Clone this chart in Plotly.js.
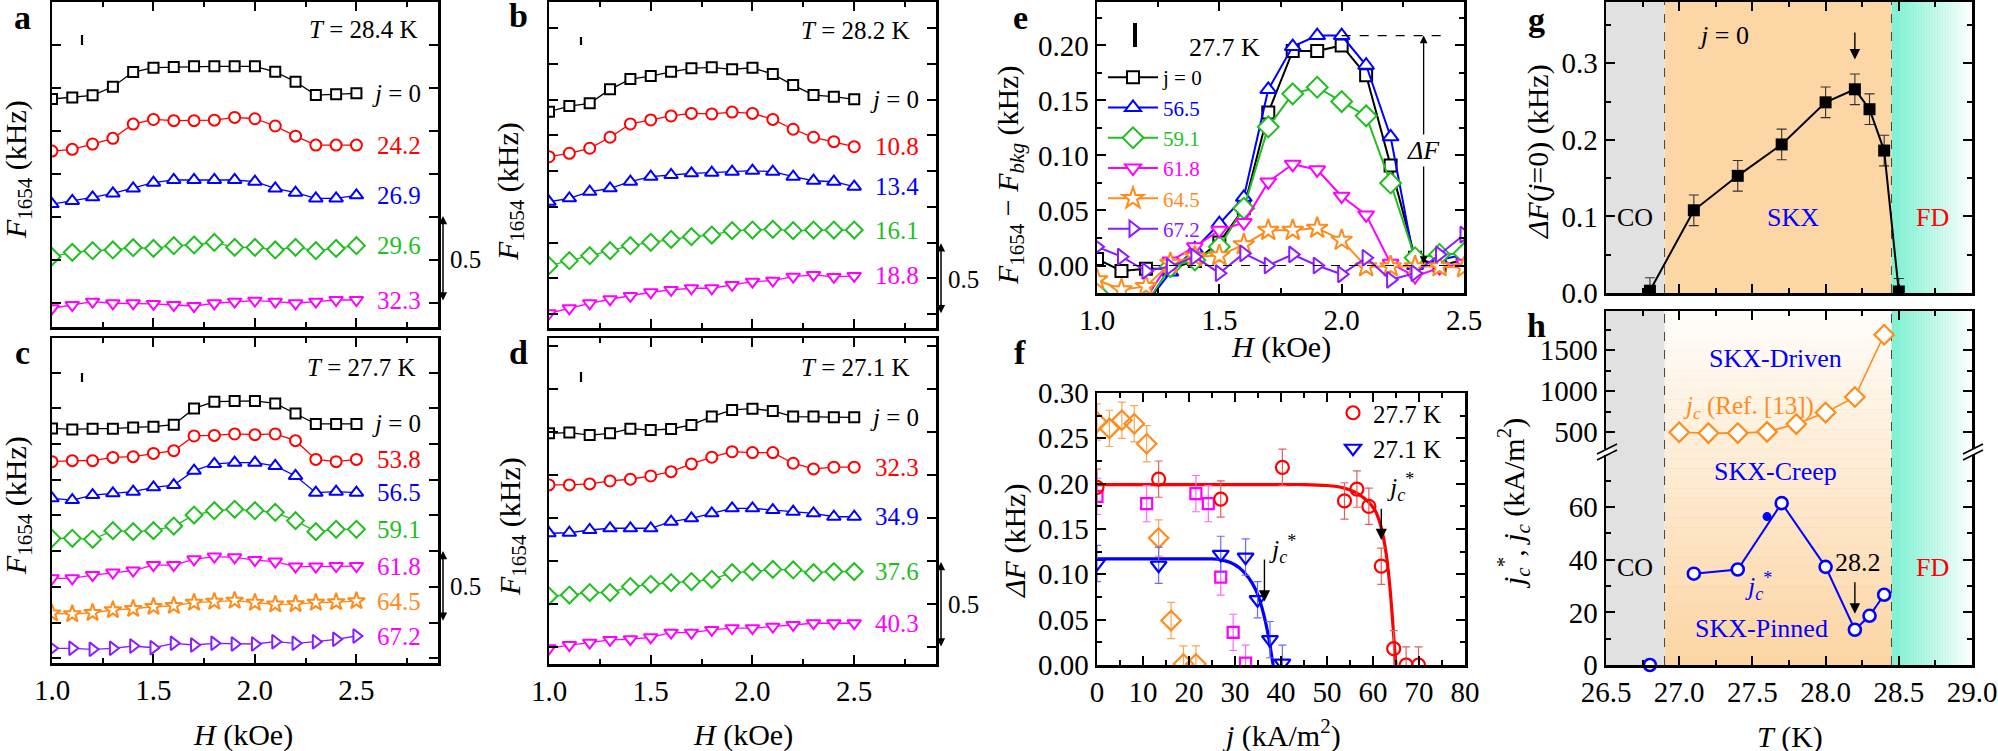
<!DOCTYPE html>
<html>
<head>
<meta charset="utf-8">
<script src="https://cdn.plot.ly/plotly-3.0.1.min.js"></script>
<style>html,body{margin:0;padding:0;background:#fff;overflow:hidden}#chart{width:1998px;height:751px}</style>
</head>
<body>
<div id="chart"></div>
<script>
// ================= DATA =================
const fieldH = [1.0,1.1,1.2,1.3,1.4,1.5,1.6,1.7,1.8,1.9,2.0,2.1,2.2,2.3,2.4,2.5];

// panel a: T = 28.4 K (offset curves, kHz)
const aCurrents = ['<i>j</i> = 0','24.2','26.9','29.6','32.3'];
const a_j0   = [1.326,1.335,1.347,1.397,1.483,1.508,1.512,1.516,1.516,1.516,1.516,1.484,1.426,1.349,1.353,1.359];
const a_24_2 = [1.023,1.033,1.064,1.097,1.180,1.207,1.200,1.200,1.203,1.219,1.211,1.169,1.110,1.058,1.058,1.058];
const a_26_9 = [0.715,0.733,0.754,0.777,0.806,0.839,0.855,0.855,0.855,0.855,0.845,0.806,0.781,0.748,0.748,0.766];
const a_29_6 = [0.409,0.434,0.444,0.448,0.461,0.457,0.473,0.477,0.492,0.463,0.463,0.448,0.463,0.444,0.457,0.473];
const a_32_3 = [0.109,0.128,0.147,0.138,0.138,0.134,0.128,0.122,0.138,0.147,0.153,0.147,0.138,0.147,0.157,0.157];

// panel b: T = 28.2 K
const bCurrents = ['<i>j</i> = 0','10.8','13.4','16.1','18.8'];
const b_j0   = [1.513,1.552,1.571,1.669,1.741,1.762,1.792,1.816,1.823,1.809,1.820,1.776,1.699,1.629,1.618,1.599];
const b_10_8 = [1.198,1.222,1.257,1.334,1.427,1.455,1.483,1.501,1.497,1.510,1.501,1.459,1.390,1.334,1.303,1.268];
const b_13_4 = [0.883,0.907,0.953,0.977,1.023,1.058,1.070,1.082,1.086,1.093,1.100,1.093,1.058,1.030,1.023,0.988];
const b_16_1 = [0.436,0.471,0.506,0.541,0.576,0.599,0.620,0.639,0.650,0.681,0.685,0.690,0.681,0.685,0.685,0.685];
const b_18_8 = [0.103,0.138,0.173,0.201,0.224,0.250,0.266,0.278,0.278,0.301,0.324,0.331,0.359,0.371,0.357,0.364];

// panel c: T = 27.7 K
const cCurrents = ['<i>j</i> = 0','53.8','56.5','59.1','61.8','64.5','67.2'];
const c_j0   = [1.643,1.636,1.641,1.641,1.650,1.655,1.669,1.783,1.830,1.835,1.835,1.818,1.748,1.674,1.674,1.674];
const c_53_8 = [1.410,1.417,1.417,1.440,1.445,1.468,1.487,1.590,1.594,1.604,1.599,1.604,1.557,1.426,1.410,1.426];
const c_56_5 = [1.153,1.141,1.176,1.188,1.200,1.230,1.246,1.347,1.394,1.403,1.403,1.380,1.310,1.193,1.200,1.193];
const c_59_1 = [0.873,0.873,0.866,0.927,0.920,0.927,0.959,1.036,1.067,1.076,1.067,1.055,0.997,0.920,0.936,0.936];
const c_61_8 = [0.593,0.593,0.616,0.633,0.647,0.686,0.686,0.726,0.745,0.740,0.721,0.710,0.675,0.675,0.679,0.679];
const c_64_5 = [0.348,0.343,0.352,0.371,0.380,0.394,0.401,0.423,0.430,0.437,0.423,0.411,0.413,0.423,0.427,0.434];
const c_67_2 = [0.103,0.103,0.096,0.103,0.119,0.107,0.138,0.126,0.138,0.133,0.133,0.149,0.138,0.149,0.166,0.189];

// panel d: T = 27.1 K
const dCurrents = ['<i>j</i> = 0','32.3','34.9','37.6','40.3'];
const d_j0   = [1.341,1.345,1.331,1.341,1.368,1.360,1.366,1.390,1.438,1.477,1.484,1.471,1.438,1.438,1.434,1.434];
const d_32_3 = [1.041,1.041,1.047,1.064,1.074,1.093,1.118,1.163,1.202,1.234,1.229,1.229,1.167,1.134,1.144,1.144];
const d_34_9 = [0.760,0.763,0.779,0.789,0.789,0.789,0.827,0.847,0.876,0.905,0.905,0.895,0.885,0.876,0.856,0.856];
const d_37_6 = [0.395,0.401,0.415,0.415,0.450,0.463,0.473,0.479,0.492,0.531,0.537,0.550,0.547,0.531,0.537,0.537];
const d_40_3 = [0.091,0.110,0.124,0.140,0.144,0.155,0.182,0.182,0.198,0.208,0.208,0.217,0.227,0.237,0.237,0.237];

// panel e: background-subtracted, 27.7 K
const eNames = ['j = 0','56.5','59.1','61.8','64.5','67.2'];
const e_j0   = [0.006,-0.005,-0.003,-0.003,0.004,0.021,0.052,0.139,0.195,0.195,0.200,0.173,0.091,0.007,0.000,0.005];
const e_56_5 = [-0.040,-0.040,-0.035,-0.006,0.015,0.038,0.062,0.160,0.199,0.209,0.209,0.182,0.117,0.000,0.005,0.010];
const e_59_1 = [-0.025,-0.035,-0.035,-0.001,0.005,0.017,0.052,0.126,0.156,0.162,0.149,0.136,0.075,0.007,0.010,0.011];
const e_61_8 = [-0.035,-0.035,-0.030,0.004,0.017,0.032,0.039,0.076,0.092,0.087,0.063,0.046,0.002,-0.010,-0.002,0.002];
const e_64_5 = [-0.013,-0.022,-0.019,0.002,0.008,0.009,0.019,0.032,0.032,0.034,0.023,-0.001,-0.001,-0.001,-0.001,-0.002];
const e_67_2 = [0.017,0.008,-0.005,-0.001,0.008,-0.007,0.011,0.000,0.010,0.000,-0.008,0.007,-0.013,-0.007,0.010,0.028];

// panel f: dF vs j
const f277_j   = [0,13.4,26.9,40.3,53.8,56.5,59.1,61.8,64.5,67.2,69.9];
const f277_dF  = [0.196,0.205,0.183,0.218,0.181,0.194,0.175,0.109,0.018,0.000,0.000];
const f277_err = [0.02,0.02,0.02,0.02,0.02,0.02,0.02,0.02,0.02,0.02,0.02];
const f271_j   = [0,13.4,26.9,32.3,34.9,37.6,40.3];
const f271_dF  = [0.112,0.110,0.122,0.119,0.072,0.028,0.002];
const f271_err = [0.02,0.02,0.02,0.02,0.02,0.02,0.02];
const f282_j   = [0,2.7,5.4,8.1,10.8,13.4,16.1,18.8,21.5];
const f282_dF  = [0.268,0.261,0.270,0.266,0.244,0.140,0.049,0.001,0.001];
const f282_err = [0.02,0.02,0.02,0.02,0.02,0.02,0.02,0.02,0.02];
const f284_j   = [0,10.8,21.5,24.2,26.9,29.6,32.3];
const f284_dF  = [0.186,0.178,0.189,0.178,0.097,0.036,0.002];
const f284_err = [0.02,0.02,0.02,0.02,0.02,0.02,0.02];
const fit277_j  = [0,10,20,30,40,45,50,53,55,57,59,60.5,61.5,62.3,63,63.6,64.1,64.6,65.0];
const fit277_dF = [0.199,0.199,0.199,0.199,0.199,0.199,0.198,0.196,0.193,0.188,0.180,0.170,0.157,0.140,0.118,0.090,0.060,0.025,0.0];
const fit271_j  = [0,10,20,25,27,29,31,33,34.5,35.7,36.7,37.4,38.0,38.3];
const fit271_dF = [0.117,0.117,0.117,0.117,0.116,0.113,0.107,0.096,0.083,0.066,0.046,0.028,0.009,0.0];
const jcStar277 = 61.8, jcStar271 = 36.4;

// panel g: dF(j=0) vs T
const g_T   = [26.8,27.1,27.4,27.7,28.0,28.2,28.3,28.4,28.5];
const g_dF  = [0.003,0.108,0.153,0.194,0.249,0.266,0.240,0.186,0.002];
const g_err = [0.017,0.02,0.02,0.02,0.02,0.02,0.02,0.02,0.017];

// panel h: critical currents vs T
const h_T      = [26.8,27.1,27.4,27.7,28.0,28.2,28.3,28.4];
const h_jcStar = [0,34.7,36.3,61.5,37.3,13.4,18.7,26.7];
const h_extraT = [27.6,27.7];
const h_extra  = [56.4,62.5];
const jcRef_T  = [27.0,27.2,27.4,27.6,27.8,28.0,28.2,28.4];
const jcRef    = [500,490,490,505,600,740,930,1690];
const phaseT   = [26.9,28.45];   // CO|SKX and SKX|FD boundaries
const scaleBar = 0.5;            // kHz

// ================= STYLE / LAYOUT =================
const FONT = 'Liberation Serif, Times New Roman, DejaVu Serif, serif';
const W = 1998, HT = 751;
const px = v => v / W;
const py = v => 1 - v / HT;
const BLACK='#000000', RED='#ff0000', BLUE='#0000ff', GREEN='#1fbf1f', MAG='#ff00ff', ORANGE='#ff8c1a', PURPLE='#8a1cff';
const SIZE = {'square':10,'circle':11,'triangle-up':12,'diamond':13,'triangle-down':12,'star':13,'triangle-right':12};

const traces = [], annotations = [], shapes = [];
const note = o => annotations.push(Object.assign({showarrow:false, xanchor:'center', yanchor:'middle', font:{family:FONT, size:26, color:'#000'}}, o));
const txt = (x, y, text, o) => note(Object.assign({x, y, text, xref:'paper', yref:'paper'}, o||{}));

// axes
const minor = d => ({ticks:'inside', ticklen:5, tickwidth:2, tickcolor:'#000', dtick:d, showgrid:false});
function ax(o) {
  return Object.assign({showline:true, linecolor:'#000', linewidth:2.5, mirror:'ticks', ticks:'inside', ticklen:9, tickwidth:2,
    tickcolor:'#000', showgrid:false, zeroline:false, fixedrange:true, tickfont:{family:FONT, size:29, color:'#000'}}, o);
}
const dx = (l, r) => [px(l), px(r)];
const dy = (t, b) => [py(b), py(t)];

const layout = {
  width:W, height:HT, margin:{l:0, r:0, t:0, b:0, pad:0},
  paper_bgcolor:'#ffffff', plot_bgcolor:'rgba(0,0,0,0)',
  font:{family:FONT, color:'#000'},
  xaxis:  ax({domain:dx(52,438),  anchor:'y',  range:[1,2.902], tick0:1, dtick:0.5, showticklabels:false, minor:minor(0.25)}),
  yaxis:  ax({domain:dy(2,327),   anchor:'x',  range:[0,1.89], tick0:0.14, dtick:0.25, showticklabels:false}),
  xaxis2: ax({domain:dx(549,936), anchor:'y2', range:[1,2.902], tick0:1, dtick:0.5, showticklabels:false, minor:minor(0.25)}),
  yaxis2: ax({domain:dy(2,328),   anchor:'x2', range:[0,2.28], tick0:0.098, dtick:0.25, showticklabels:false}),
  xaxis3: ax({domain:dx(52,438),  anchor:'y3', range:[1,2.902], tick0:1, dtick:0.5, tickformat:'.1f', minor:minor(0.25)}),
  yaxis3: ax({domain:dy(338,663), anchor:'x3', range:[0,2.276], tick0:0.033, dtick:0.25, showticklabels:false}),
  xaxis4: ax({domain:dx(549,936), anchor:'y4', range:[1,2.902], tick0:1, dtick:0.5, tickformat:'.1f', minor:minor(0.25)}),
  yaxis4: ax({domain:dy(338,664), anchor:'x4', range:[0,1.895], tick0:0.097, dtick:0.25, showticklabels:false}),
  xaxis5: ax({domain:dx(1097,1464), anchor:'y5', range:[1,2.5], tick0:1, dtick:0.5, tickformat:'.1f', minor:minor(0.25)}),
  yaxis5: ax({domain:dy(2,293), anchor:'x5', range:[-0.025,0.2395], tick0:0, dtick:0.05, tickformat:'.2f', minor:minor(0.025)}),
  xaxis6: ax({domain:dx(1097,1465), anchor:'y6', range:[0,80], tick0:0, dtick:10, minor:minor(5)}),
  yaxis6: ax({domain:dy(393,665), anchor:'x6', range:[0,0.3], tick0:0, dtick:0.05, tickformat:'.2f', minor:minor(0.025)}),
  xaxis7: ax({domain:dx(1606,1972), anchor:'y7', range:[26.5,29], tick0:26.5, dtick:0.5, showticklabels:false, minor:minor(0.25)}),
  yaxis7: ax({domain:dy(2,293), anchor:'x7', range:[0,0.38], tick0:0, dtick:0.1, tickformat:'.1f', minor:minor(0.05)}),
  xaxis8: ax({domain:dx(1606,1972), anchor:'y8', range:[26.5,29], tick0:26.5, dtick:0.5, tickformat:'.1f', minor:minor(0.25), mirror:false}),
  yaxis8: ax({domain:dy(455,665), anchor:'x8', range:[0,79.8], tick0:0, dtick:20, minor:minor(10)}),
  xaxis9: ax({domain:dx(1606,1972), anchor:'y9', matches:'x8', range:[26.5,29], tick0:26.5, dtick:0.5, side:'top', showticklabels:false, minor:minor(0.25), mirror:false}),
  yaxis9: ax({domain:dy(311,449), anchor:'x9', range:[296,1979], tick0:0, dtick:500, minor:{ticks:'inside', ticklen:5, tickwidth:2, tickcolor:'#000', dtick:250, tick0:0, showgrid:false}}),
  legend:  {x:px(1103), y:py(57), xanchor:'left', yanchor:'top', bgcolor:'rgba(0,0,0,0)', borderwidth:0, itemwidth:50, tracegroupgap:0,
            font:{family:FONT, size:21, color:'#000'}},
  legend2: {x:px(1333), y:py(390), xanchor:'left', yanchor:'top', bgcolor:'rgba(0,0,0,0)', borderwidth:0, itemwidth:30,
            font:{family:FONT, size:25, color:'#000'}},
  showlegend:true
};
const pxPerUnit = id => { const a = layout[id]; return (a.domain[1]-a.domain[0])*HT/(a.range[1]-a.range[0]); };

// stacked panels a-d
const stackPanels = [
  {xa:'x',  ya:'y',  yk:'yaxis',  series:[a_j0,a_24_2,a_26_9,a_29_6,a_32_3], labels:aCurrents, colors:[BLACK,RED,BLUE,GREEN,MAG], lcolors:[BLACK,RED,BLUE,GREEN,MAG], sym:['square','circle','triangle-up','diamond','triangle-down'], labelX:423, barX:443, barBase:0.145},
  {xa:'x2', ya:'y2', yk:'yaxis2', series:[b_j0,b_10_8,b_13_4,b_16_1,b_18_8], labels:bCurrents, colors:[BLACK,RED,BLUE,GREEN,MAG], lcolors:[BLACK,RED,BLUE,GREEN,MAG], sym:['square','circle','triangle-up','diamond','triangle-down'], labelX:921, barX:941, barBase:0.092},
  {xa:'x3', ya:'y3', yk:'yaxis3', series:[c_j0,c_53_8,c_56_5,c_59_1,c_61_8,c_64_5,c_67_2], labels:cCurrents, colors:[BLACK,RED,BLUE,GREEN,MAG,ORANGE,PURPLE], lcolors:[BLACK,RED,BLUE,GREEN,MAG,ORANGE,MAG], sym:['square','circle','triangle-up','diamond','triangle-down','star','triangle-right'], labelX:423, barX:443, barBase:0.285},
  {xa:'x4', ya:'y4', yk:'yaxis4', series:[d_j0,d_32_3,d_34_9,d_37_6,d_40_3], labels:dCurrents, colors:[BLACK,RED,BLUE,GREEN,MAG], lcolors:[BLACK,RED,BLUE,GREEN,MAG], sym:['square','circle','triangle-up','diamond','triangle-down'], labelX:921, barX:941, barBase:0.093}
];
stackPanels.forEach(p => {
  p.series.forEach((ys, i) => {
    traces.push({type:'scatter', mode:'lines+markers', x:fieldH, y:ys, xaxis:p.xa, yaxis:p.ya, showlegend:false,
      line:{color:p.colors[i], width:1.3},
      marker:{symbol:p.sym[i], size:SIZE[p.sym[i]], color:'#ffffff', line:{color:p.colors[i], width:2}}});
    note({xref:'paper', yref:p.ya, x:px(p.labelX), y:ys[ys.length-1], xanchor:'right', text:p.labels[i], font:{family:FONT, size:25, color:p.lcolors[i]}});
  });
  // 0.5 kHz scale bar, length taken from this panel's y scale
  annotations.push({xref:'paper', yref:p.ya, x:px(p.barX), y:p.barBase + scaleBar, axref:'pixel', ayref:'pixel', ax:0, ay:scaleBar*pxPerUnit(p.yk),
    text:'', showarrow:true, arrowhead:2, arrowside:'end+start', arrowsize:1.1, arrowwidth:1.5, arrowcolor:'#000', standoff:0, startstandoff:0});
  note({xref:'paper', yref:p.ya, x:px(p.barX + 5), y:p.barBase + scaleBar/2, xanchor:'left', text:String(scaleBar), font:{family:FONT, size:25, color:'#000'}});
});

// temperature labels a-d
txt(px(420), py(29), '<i>T</i> = 28.4 K', {xanchor:'right', font:{family:FONT,size:25,color:'#000'}});
txt(px(912), py(31), '<i>T</i> = 28.2 K', {xanchor:'right', font:{family:FONT,size:25,color:'#000'}});
txt(px(418), py(367), '<i>T</i> = 27.7 K', {xanchor:'right', font:{family:FONT,size:25,color:'#000'}});
txt(px(912), py(367), '<i>T</i> = 27.1 K', {xanchor:'right', font:{family:FONT,size:25,color:'#000'}});

// small error-size bars
[[82,35,45,2.2],[581,37,45,2.2],[82,373,382,2.2],[581,372,382,2.2],[1135,23,47,4]].forEach(b => {
  shapes.push({type:'line', xref:'paper', yref:'paper', x0:px(b[0]), x1:px(b[0]), y0:py(b[1]), y1:py(b[2]), line:{color:'#000', width:b[3]}});
});

// panel e
const eSeries = [e_j0,e_56_5,e_59_1,e_61_8,e_64_5,e_67_2];
const eColors = [BLACK,BLUE,GREEN,MAG,ORANGE,PURPLE];
const eSym = ['square','triangle-up','diamond','triangle-down','star','triangle-right'];
eSeries.forEach((ys, i) => {
  traces.push({type:'scatter', mode:'lines+markers', x:fieldH, y:ys, xaxis:'x5', yaxis:'y5',
    name:'<span style="color:'+eColors[i]+'">'+eNames[i]+'</span>', legend:'legend',
    line:{color:eColors[i], width:2}, marker:{symbol:eSym[i], size:Math.round(SIZE[eSym[i]]*1.2), color:'#ffffff', line:{color:eColors[i], width:2}}});
});
const eMax = Math.max(...e_56_5);
shapes.push({type:'line', xref:'x5 domain', yref:'y5', x0:0, x1:1, y0:0, y1:0, line:{color:'#000', width:1.2, dash:'dash'}});
shapes.push({type:'line', xref:'x5', yref:'y5', x0:2.0, x1:2.41, y0:eMax, y1:eMax, line:{color:'#000', width:1.2, dash:'dash'}});
annotations.push({xref:'x5', yref:'y5', axref:'x5', ayref:'y5', x:2.335, y:eMax, ax:2.335, ay:0, text:'', showarrow:true,
  arrowhead:2, arrowside:'end+start', arrowsize:1.2, arrowwidth:1.3, arrowcolor:'#000', standoff:0, startstandoff:0});
note({xref:'x5', yref:'y5', x:2.335, y:eMax/2, text:'<i>ΔF</i>', bgcolor:'#ffffff'});
txt(px(1187), py(47), '27.7 K', {xanchor:'left'});

// panel f
traces.push({type:'scatter', mode:'lines', x:fit277_j, y:fit277_dF, xaxis:'x6', yaxis:'y6', showlegend:false, line:{color:RED, width:3.2, shape:'spline'}});
traces.push({type:'scatter', mode:'lines', x:fit271_j, y:fit271_dF, xaxis:'x6', yaxis:'y6', showlegend:false, line:{color:BLUE, width:3.2, shape:'spline'}});
traces.push({type:'scatter', mode:'markers', x:f282_j, y:f282_dF, xaxis:'x6', yaxis:'y6', showlegend:false,
  error_y:{type:'data', array:f282_err, color:'#f7a55a', thickness:1.2, width:4},
  marker:{symbol:'diamond', size:15, color:'rgba(255,255,255,0)', line:{color:ORANGE, width:2.2}}});
traces.push({type:'scatter', mode:'markers', x:f284_j, y:f284_dF, xaxis:'x6', yaxis:'y6', showlegend:false,
  error_y:{type:'data', array:f284_err, color:'#ff66ff', thickness:1.2, width:4},
  marker:{symbol:'square', size:11, color:'rgba(255,255,255,0)', line:{color:MAG, width:2.2}}});
traces.push({type:'scatter', mode:'markers', x:f277_j, y:f277_dF, xaxis:'x6', yaxis:'y6', name:'27.7 K', legend:'legend2',
  error_y:{type:'data', array:f277_err, color:'#e06060', thickness:1.2, width:4},
  marker:{symbol:'circle', size:13, color:'rgba(255,255,255,0)', line:{color:RED, width:2.2}}});
traces.push({type:'scatter', mode:'markers', x:f271_j, y:f271_dF, xaxis:'x6', yaxis:'y6', name:'27.1 K', legend:'legend2',
  error_y:{type:'data', array:f271_err, color:'#6b6bff', thickness:1.2, width:4},
  marker:{symbol:'triangle-down', size:14, color:'rgba(255,255,255,0)', line:{color:BLUE, width:2.2}}});
const jcs = '<i>j</i><sub><i>c</i></sub><sup>*</sup>';
annotations.push({xref:'x6', yref:'y6', axref:'x6', ayref:'y6', x:jcStar277, y:0.138, ax:jcStar277, ay:0.174, text:'', showarrow:true, arrowhead:2, arrowsize:1.6, arrowwidth:1.4, arrowcolor:'#000'});
note({xref:'x6', yref:'y6', x:jcStar277+0.8, y:0.196, xanchor:'left', text:jcs});
annotations.push({xref:'x6', yref:'y6', axref:'x6', ayref:'y6', x:jcStar271, y:0.070, ax:jcStar271, ay:0.118, text:'', showarrow:true, arrowhead:2, arrowsize:1.6, arrowwidth:1.4, arrowcolor:'#000'});
note({xref:'x6', yref:'y6', x:jcStar271+0.5, y:0.128, xanchor:'left', text:jcs});

// panels g and h: phase backgrounds
const hTop = 311, hBot = 665;
shapes.push({type:'rect', xref:'x7', yref:'y7 domain', x0:26.5, x1:phaseT[0], y0:0, y1:1, fillcolor:'#e1e1e1', line:{width:0}, layer:'below'});
shapes.push({type:'rect', xref:'x7', yref:'y7 domain', x0:phaseT[0], x1:phaseT[1], y0:0, y1:1, fillcolor:'#fcd6a5', line:{width:0}, layer:'below'});
shapes.push({type:'rect', xref:'x8', yref:'paper', x0:26.5, x1:phaseT[0], y0:py(hBot), y1:py(hTop), fillcolor:'#e1e1e1', line:{width:0}, layer:'below'});
const NV = 36;
for (let i = 0; i < NV; i++) {
  const t0 = hTop + (hBot-hTop)*i/NV, t1 = hTop + (hBot-hTop)*(i+1)/NV + 0.6;
  const a = (0.04 + 0.96*((i+0.5)/NV)).toFixed(3);
  shapes.push({type:'rect', xref:'x8', yref:'paper', x0:phaseT[0], x1:phaseT[1], y0:py(t1), y1:py(t0), fillcolor:'rgba(252,213,163,'+a+')', line:{width:0}, layer:'below'});
}
const NT = 30;
for (let i = 0; i < NT; i++) {
  const x0 = phaseT[1] + (29.0-phaseT[1])*i/NT, x1 = phaseT[1] + (29.0-phaseT[1])*(i+1)/NT + 0.003;
  const a = (0.85*(1-(i+0.5)/NT)).toFixed(3);
  const col = 'rgba(105,238,202,'+a+')';
  shapes.push({type:'rect', xref:'x7', yref:'y7 domain', x0, x1, y0:0, y1:1, fillcolor:col, line:{width:0}, layer:'below'});
  shapes.push({type:'rect', xref:'x8', yref:'paper', x0, x1, y0:py(hBot), y1:py(hTop), fillcolor:col, line:{width:0}, layer:'below'});
}
phaseT.forEach(t => {
  shapes.push({type:'line', xref:'x7', yref:'y7 domain', x0:t, x1:t, y0:0, y1:1, line:{color:'#444', width:1, dash:'dash'}, layer:'below'});
  shapes.push({type:'line', xref:'x8', yref:'paper', x0:t, x1:t, y0:py(hBot), y1:py(hTop), line:{color:'#444', width:1, dash:'dash'}, layer:'below'});
});

// panel g data
traces.push({type:'scatter', mode:'lines+markers', x:g_T, y:g_dF, xaxis:'x7', yaxis:'y7', showlegend:false,
  error_y:{type:'data', array:g_err, color:'#333', thickness:1.1, width:5},
  line:{color:'#000', width:2}, marker:{symbol:'square', size:12, color:'#000'}});
annotations.push({xref:'x7', yref:'y7', axref:'x7', ayref:'y7', x:g_T[5], y:0.305, ax:g_T[5], ay:0.342, text:'', showarrow:true, arrowhead:2, arrowsize:1.5, arrowwidth:1.4, arrowcolor:'#000'});
note({xref:'x7', yref:'y7', x:27.3, y:0.336, text:'<i>j</i> = 0'});
note({xref:'x7', yref:'y7', x:26.7, y:0.098, text:'CO'});
note({xref:'x7', yref:'y7', x:27.78, y:0.098, text:'SKX', font:{family:FONT,size:26,color:BLUE}});
note({xref:'x7', yref:'y7', x:28.73, y:0.098, text:'FD', font:{family:FONT,size:26,color:RED}});

// panel h data
traces.push({type:'scatter', mode:'lines+markers', x:jcRef_T, y:jcRef, xaxis:'x9', yaxis:'y9', showlegend:false,
  line:{color:ORANGE, width:1.6}, marker:{symbol:'diamond', size:15, color:'#ffffff', line:{color:ORANGE, width:2.2}}});
traces.push({type:'scatter', mode:'lines', x:h_T.slice(1), y:h_jcStar.slice(1), xaxis:'x8', yaxis:'y8', showlegend:false, line:{color:BLUE, width:2}});
traces.push({type:'scatter', mode:'markers', x:h_extraT, y:h_extra, xaxis:'x8', yaxis:'y8', showlegend:false, marker:{symbol:'circle', size:9, color:BLUE}});
traces.push({type:'scatter', mode:'markers', x:h_T, y:h_jcStar, xaxis:'x8', yaxis:'y8', showlegend:false, cliponaxis:false,
  marker:{symbol:'circle', size:12, color:'#ffffff', line:{color:BLUE, width:2.6}}});
annotations.push({xref:'x8', yref:'y8', axref:'x8', ayref:'y8', x:h_T[5], y:19.5, ax:h_T[5], ay:32, text:'', showarrow:true, arrowhead:2, arrowsize:1.5, arrowwidth:1.4, arrowcolor:'#000'});
note({xref:'x8', yref:'y8', x:28.22, y:39, text:'28.2'});
note({xref:'x8', yref:'y8', x:26.7, y:37, text:'CO'});
note({xref:'x8', yref:'y8', x:28.73, y:37, text:'FD', font:{family:FONT,size:26,color:RED}});
note({xref:'x8', yref:'y8', x:27.66, y:73.5, text:'SKX-Creep', font:{family:FONT,size:26,color:BLUE}});
note({xref:'x8', yref:'y8', x:27.56, y:14, text:'SKX-Pinned', font:{family:FONT,size:26,color:BLUE}});
note({xref:'x8', yref:'y8', x:27.54, y:30, text:jcs, font:{family:FONT,size:26,color:BLUE}});
note({xref:'x9', yref:'y9', x:27.66, y:1400, text:'SKX-Driven', font:{family:FONT,size:26,color:BLUE}});
note({xref:'x9', yref:'y9', x:27.47, y:800, text:'<i>j</i><sub><i>c</i></sub> (Ref. [13])', font:{family:FONT,size:25,color:ORANGE}});
// axis break marks
[[1597,1617],[1963,1983]].forEach(b => {
  shapes.push({type:'rect', xref:'paper', yref:'paper', x0:px(b[0]+4), x1:px(b[1]-4), y0:py(454), y1:py(449), fillcolor:'#ffffff', line:{width:0}});
  shapes.push({type:'line', xref:'paper', yref:'paper', x0:px(b[0]), x1:px(b[1]), y0:py(454), y1:py(444), line:{color:'#000', width:1.6}});
  shapes.push({type:'line', xref:'paper', yref:'paper', x0:px(b[0]), x1:px(b[1]), y0:py(460), y1:py(450), line:{color:'#000', width:1.6}});
});

// axis titles & panel letters
const T30 = {family:FONT, size:30, color:'#000'};
const F1654 = '<i>F</i><sub>1654</sub> (kHz)';
txt(px(18), py(170), F1654, {textangle:-90, font:T30});
txt(px(510), py(192), F1654, {textangle:-90, font:T30});
txt(px(18), py(506), F1654, {textangle:-90, font:T30});
txt(px(512), py(527), F1654, {textangle:-90, font:T30});
txt(px(243), py(735), '<i>H</i> (kOe)', {font:T30});
txt(px(743), py(735), '<i>H</i> (kOe)', {font:T30});
txt(px(1010), py(176), '<i>F</i><sub>1654</sub> − <i>F</i><sub><i>bkg</i></sub> (kHz)', {textangle:-90, font:T30});
txt(px(1281), py(347), '<i>H</i> (kOe)', {font:T30});
txt(px(1015), py(541), '<i>ΔF</i> (kHz)', {textangle:-90, font:T30});
txt(px(1281), py(733), '<i>j</i> (kA/m<sup>2</sup>)', {font:T30});
txt(px(1538), py(152), '<i>ΔF</i>(<i>j</i>=0) (kHz)', {textangle:-90, font:T30});
txt(px(1513), py(504), jcs + ', <i>j</i><sub><i>c</i></sub> (kA/m<sup>2</sup>)', {textangle:-90, font:T30});
txt(px(1790), py(737), '<i>T</i> (K)', {font:T30});
[['a',22,17],['b',518,15],['c',22,353],['d',518,352],['e',1020,17],['f',1020,353],['g',1536,20],['h',1536,325]].forEach(l => {
  txt(px(l[1]), py(l[2]), '<b>'+l[0]+'</b>', {font:{family:FONT, size:34, color:'#000'}});
});

layout.annotations = annotations;
layout.shapes = shapes;
Plotly.newPlot('chart', traces, layout, {staticPlot:true, displayModeBar:false});
</script>
</body>
</html>
